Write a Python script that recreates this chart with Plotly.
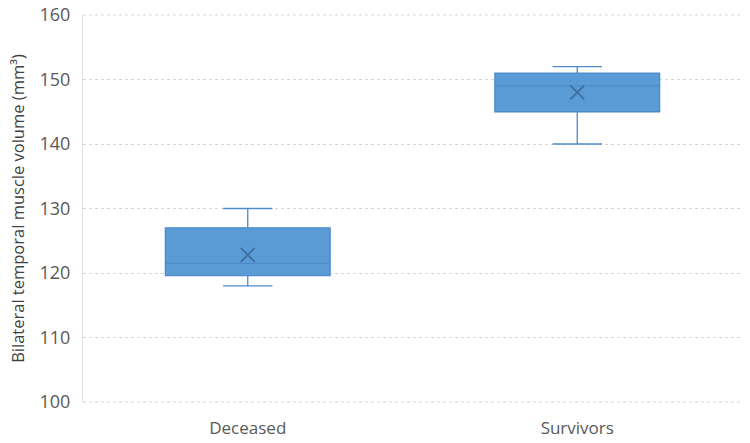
import plotly.graph_objects as go

categories = ["Deceased", "Survivors"]
lower_whisker = [118, 140]
q1 = [119.6, 145]
median = [121.5, 149]
q3 = [127, 151]
upper_whisker = [130, 152]
mean = [122.8, 148]

fig = go.Figure()
fig.add_trace(go.Box(
    x=categories, q1=q1, median=median, q3=q3,
    lowerfence=lower_whisker, upperfence=upper_whisker,
    fillcolor="#5B9BD5",
    line=dict(color="#4F8BC9", width=1.3),
    width=0.5, whiskerwidth=0.3,
    boxpoints=False, showlegend=False, hoverinfo="skip",
))
fig.add_trace(go.Scatter(
    x=categories, y=mean, mode="markers",
    marker=dict(symbol="x-thin", size=14, line=dict(color="#3F6E9E", width=1.8)),
    showlegend=False, hoverinfo="skip",
))

# dotted frame lines at top and bottom of the plot area (Excel-style gridlines at range ends)
for yy in (0, 1):
    fig.add_shape(type="line", xref="paper", yref="paper", x0=0, x1=1, y0=yy, y1=yy,
                  line=dict(color="#D6D6D6", width=1, dash="dot"), layer="below")

fig.update_layout(
    width=750, height=443,
    margin=dict(l=83, r=8, t=15, b=41),
    plot_bgcolor="white", paper_bgcolor="white",
    font=dict(family="Open Sans, Liberation Sans, sans-serif", color="#595959"),
)
fig.update_xaxes(
    range=[-0.5, 1.5], showgrid=False, zeroline=False, showline=False,
    tickfont=dict(size=17, color="#595959"), ticks="", ticklabelstandoff=14,
    automargin=False,
)
fig.update_yaxes(
    range=[100, 160], dtick=10, tick0=100, showgrid=True, gridcolor="#D6D6D6", griddash="dot",
    zeroline=False, showline=True, linecolor="#E0E0E0", linewidth=1,
    tickfont=dict(size=18, color="#595959"), ticks="", ticklabelstandoff=8,
    automargin=False,
    title=dict(text="Bilateral temporal muscle volume (mm³)", font=dict(size=16.5, color="#404040"), standoff=10),
)
fig.write_html("out.html")
